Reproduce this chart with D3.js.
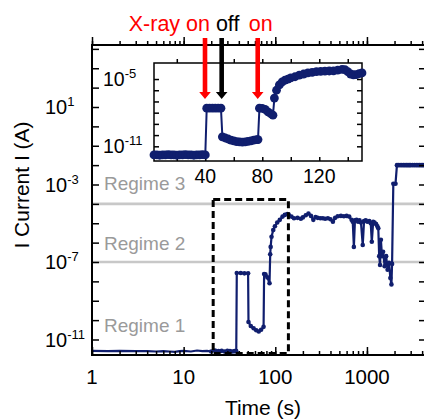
<!DOCTYPE html>
<html>
<head>
<meta charset="utf-8">
<script src="https://cdn.jsdelivr.net/npm/d3@7"></script>
<style>
  body { margin: 0; background: #fff; }
  svg { display: block; }
  text { font-family: Helvetica, "Liberation Sans", Arial, sans-serif; }
</style>
</head>
<body>
<script>
// main trace, log time (s) vs current (A)
var mainTime = [1, 1.5, 2, 3, 4, 5, 6, 7, 8, 9, 10, 12, 14, 16, 18, 20, 22, 24, 26, 28, 30, 32, 34, 36, 37.5,
  38, 42, 46, 50.5, 51, 54, 58, 62, 66, 70, 74.5, 75.5, 78, 82, 86.5, 88, 89, 91, 95, 99, 105, 112, 120, 127, 135, 140,
  150, 160, 175, 190, 200, 215, 230, 245, 260, 275, 290, 310, 330, 350, 375, 400, 425, 450, 480, 520, 560, 600, 640, 680, 700,
  720, 740, 770, 800, 830, 860, 900, 930, 970, 1010, 1060, 1100, 1130, 1170, 1210, 1260, 1300, 1330, 1360, 1390, 1420,
  1460, 1500, 1560, 1620, 1680, 1740, 1800, 1850, 1880, 1940, 2050, 2125, 2200, 2300, 2400, 2500, 2600, 2700, 2800,
  2900, 3000, 3150, 3300, 3450, 3600, 3750, 3900, 4050, 4200, 4300];
var mainCurrent = [2.6e-12, 2.5e-12, 2.6e-12, 2.5e-12, 2.5e-12, 2.4e-12, 2.5e-12, 2.4e-12, 2.3e-12, 2.5e-12, 2.6e-12, 2.4e-12,
  2.7e-12, 2.5e-12, 2.6e-12, 2.4e-12, 2.7e-12, 2.5e-12, 2.6e-12, 2.4e-12, 2.6e-12, 2.5e-12, 2.4e-12, 2.5e-12, 2.5e-12,
  2.7e-8, 2.7e-8, 2.6e-8, 2.6e-8, 8e-11, 5e-11, 3.8e-11, 3e-11, 2.6e-11, 3.2e-11, 4.5e-11, 2.4e-8, 2.3e-8, 1.6e-8, 8e-9,
  2.5e-7, 6e-7, 2e-6, 4.5e-6, 7e-6, 1.1e-5, 1.5e-5, 2.2e-5, 2.7e-5, 3e-5, 2.8e-5,
  2.2e-5, 1.8e-5, 1.9e-5, 1.7e-5, 2e-5, 2.6e-5, 3.2e-5, 2.4e-5, 1.5e-5, 2.1e-5, 1.9e-5, 1.8e-5, 1.8e-5, 1.7e-5, 1.8e-5,
  1.6e-5, 1.2e-5, 1.9e-5, 2.3e-5, 2.4e-5, 2.3e-5, 2.4e-5, 2.2e-5, 1.5e-5, 1.2e-5,
  6e-7, 1.4e-5, 1.5e-5, 1.2e-5, 1.4e-5, 1.1e-5, 7.5e-7, 1.3e-5, 1.4e-5, 1.2e-5, 1.3e-5, 1.0e-5, 1.1e-6, 1.2e-5, 1.1e-5,
  9e-6, 7e-6, 5.5e-6, 2e-7, 7e-8, 1.4e-6, 2e-7, 3.4e-7, 6e-8, 2e-7, 4e-8, 9e-8, 1.5e-8, 7e-9, 8e-8, 1.1e-3, 1.1e-3,
  1e-2, 1e-2, 1e-2, 1e-2, 1e-2, 1e-2, 1e-2, 1e-2, 1e-2, 1e-2, 1e-2, 1e-2, 1e-2, 1e-2, 1e-2, 1e-2, 1e-2, 1e-2, 1e-2];

// inset trace, linear time (s)
var insetTime = [4, 6, 8, 10, 12, 14, 16, 18, 20, 22, 24, 26, 28, 30, 32, 34, 36, 38, 40,
  41, 43, 45, 47, 49, 51,
  52, 54, 56, 58, 60, 62, 64, 66, 68, 70, 72, 74, 76, 77,
  78, 80, 82, 84, 86, 87.5,
  88.5, 90, 92, 94, 96, 98, 100, 103, 106, 109, 112, 115, 118, 121, 124, 127, 130, 133, 136, 138, 140, 142, 144, 146, 148, 150];
var insetCurrent = [1.7e-12, 1.7e-12, 1.6e-12, 1.7e-12, 1.7e-12, 1.8e-12, 1.7e-12, 1.7e-12, 1.6e-12, 1.7e-12, 1.7e-12,
  1.8e-12, 1.7e-12, 1.7e-12, 1.6e-12, 1.7e-12, 1.7e-12, 1.8e-12, 1.7e-12,
  2.5e-8, 2.5e-8, 2.5e-8, 2.5e-8, 2.5e-8, 2.5e-8,
  7e-11, 5.5e-11, 4.5e-11, 3.5e-11, 3e-11, 2.6e-11, 2.5e-11, 2.4e-11, 2.5e-11, 2.7e-11, 3e-11, 3.5e-11, 4e-11, 4e-11,
  2.5e-8, 2.4e-8, 2e-8, 1.2e-8, 8e-9, 6e-9,
  2e-7, 1e-6, 3e-6, 5.6e-6, 8e-6, 1e-5, 1.26e-5, 1.6e-5, 2.2e-5, 2.8e-5, 3.5e-5, 4e-5, 4.5e-5, 4.8e-5, 5e-5, 5.2e-5,
  5.4e-5, 6.3e-5, 7.4e-5, 7e-5, 4.5e-5, 2.8e-5, 2.4e-5, 2.5e-5, 3e-5, 3.5e-5];

var xTickLabels = [1, 10, 100, 1000];
var yTickExps = [1, -3, -7, -11];
var insetXTicks = [40, 80, 120];
var insetYTickExps = [-5, -11];
var regimeNames = ['Regime 3', 'Regime 2', 'Regime 1'];
var regimeBounds = [1e-4, 1e-7];
var xrayTimes = [39.8, 51.5, 76.8];
var xrayStates = ['on', 'off', 'on'];
var xrayLabels = ['X-ray on', 'off', 'on'];
var boxTime = [21, 139];
var boxCurrent = [1.9e-12, 1.7e-4];

var W = 424, H = 420
  , plot = { left: 92, right: 425, top: 45, bottom: 355 }
  , ins = { left: 154, right: 362, top: 63, bottom: 161 }
  , navy = '#101e6e'
  , gray = '#c8c8c8';

var svg = d3.select('body').append('svg')
    .attr('width', W)
    .attr('height', H);

var x = d3.scaleLog().domain([1, 4300]).range([plot.left, plot.right]);
var y = d3.scaleLog().domain([Math.pow(10, -11.8), Math.pow(10, 4.2)]).range([plot.bottom, plot.top]);
var xi = d3.scaleLinear().domain([4, 150]).range([ins.left, ins.right]);
var yi = d3.scaleLog().domain([Math.pow(10, -12.31), Math.pow(10, -3.57)]).range([ins.bottom, ins.top]);

function pow10(g, px, py, e, size) {
  var t = g.append('text')
      .attr('x', px)
      .attr('y', py)
      .style('font-size', size + 'px');
  t.append('tspan').text('10');
  t.append('tspan')
      .attr('dy', -size * 0.38)
      .style('font-size', Math.round(size * 0.66) + 'px')
      .text(e);
}

function ticks(g, axis, tr, vals, len) {
  g.append('g')
      .attr('transform', tr)
      .call(axis.tickValues(vals).tickSize(-len).tickFormat(''))
      .call(a => a.select('.domain').remove())
      .selectAll('line').attr('stroke-width', 1.5);
}

// regime boundaries
svg.append('g').selectAll('line')
    .data(regimeBounds)
  .enter().append('line')
    .attr('x1', plot.left).attr('x2', plot.right)
    .attr('y1', d => y(d)).attr('y2', d => y(d))
    .attr('stroke', gray)
    .attr('stroke-width', 2.6);

var regimeY = [190, 250, 332];
svg.append('g').selectAll('text')
    .data(regimeNames)
  .enter().append('text')
    .attr('x', 104)
    .attr('y', (d, i) => regimeY[i])
    .style('font-size', '19px')
    .attr('fill', '#9a9a9a')
    .text(d => d);

// main trace
var mainData = mainTime.map((t, i) => ({ t: t, v: mainCurrent[i] }));

svg.append('path')
    .datum(mainData)
    .attr('fill', 'none')
    .attr('stroke', navy)
    .attr('stroke-width', 2.2)
    .attr('d', d3.line().x(d => x(d.t)).y(d => y(d.v)));

svg.append('g').selectAll('circle')
    .data(mainData.filter(d => d.t >= 20))
  .enter().append('circle')
    .attr('cx', d => x(d.t))
    .attr('cy', d => y(d.v))
    .attr('r', 2.3)
    .attr('fill', navy);

// zoom box
svg.append('rect')
    .attr('x', x(boxTime[0]))
    .attr('y', y(boxCurrent[1]))
    .attr('width', x(boxTime[1]) - x(boxTime[0]))
    .attr('height', y(boxCurrent[0]) - y(boxCurrent[1]))
    .attr('fill', 'none')
    .attr('stroke', '#000')
    .attr('stroke-width', 3)
    .attr('stroke-dasharray', '7,4');

// main frame and ticks
var xAll = x.ticks();
var yDec = d3.range(-11, 5).map(e => Math.pow(10, e));

ticks(svg, d3.axisBottom(x), 'translate(0,' + plot.bottom + ')', xAll, 4);
ticks(svg, d3.axisBottom(x), 'translate(0,' + plot.bottom + ')', xTickLabels, 8);
ticks(svg, d3.axisTop(x), 'translate(0,' + plot.top + ')', xAll, -4);
ticks(svg, d3.axisTop(x), 'translate(0,' + plot.top + ')', xTickLabels, -8);
ticks(svg, d3.axisLeft(y), 'translate(' + plot.left + ',0)', yDec, 7);
ticks(svg, d3.axisRight(y), 'translate(' + plot.right + ',0)', yDec, 6);

svg.append('rect')
    .attr('x', plot.left).attr('y', plot.top)
    .attr('width', plot.right - plot.left)
    .attr('height', plot.bottom - plot.top)
    .attr('fill', 'none')
    .attr('stroke', '#000')
    .attr('stroke-width', 2);

svg.append('g').selectAll('text')
    .data(xTickLabels)
  .enter().append('text')
    .attr('x', d => x(d))
    .attr('y', 384)
    .attr('text-anchor', 'middle')
    .style('font-size', '20.5px')
    .text(d => d);

yTickExps.forEach(e => pow10(svg, 45, y(Math.pow(10, e)) + 7, e, 20));

svg.append('text')
    .attr('x', 263)
    .attr('y', 415)
    .attr('text-anchor', 'middle')
    .style('font-size', '21px')
    .text('Time (s)');

svg.append('text')
    .attr('transform', 'translate(29,185) rotate(-90)')
    .attr('text-anchor', 'middle')
    .style('font-size', '21px')
    .text('I Current I (A)');

// inset
var inset = svg.append('g');

inset.append('rect')
    .attr('x', ins.left).attr('y', ins.top)
    .attr('width', ins.right - ins.left)
    .attr('height', ins.bottom - ins.top)
    .attr('fill', '#fff');

var insYDec = d3.range(-11, -4).map(e => Math.pow(10, e));
var insXAll = [20, 40, 60, 80, 100, 120, 140];
ticks(inset, d3.axisBottom(xi), 'translate(0,' + ins.bottom + ')', insXAll, 4);
ticks(inset, d3.axisTop(xi), 'translate(0,' + ins.top + ')', insXAll, -4);
ticks(inset, d3.axisLeft(yi), 'translate(' + ins.left + ',0)', insYDec, 5);
ticks(inset, d3.axisRight(yi), 'translate(' + ins.right + ',0)', insYDec, 5);

inset.append('rect')
    .attr('x', ins.left).attr('y', ins.top)
    .attr('width', ins.right - ins.left)
    .attr('height', ins.bottom - ins.top)
    .attr('fill', 'none')
    .attr('stroke', '#000')
    .attr('stroke-width', 1.5);

var insetData = insetTime.map((t, i) => ({ t: t, v: insetCurrent[i] }));

inset.append('path')
    .datum(insetData)
    .attr('fill', 'none')
    .attr('stroke', navy)
    .attr('stroke-width', 2)
    .attr('d', d3.line().x(d => xi(d.t)).y(d => yi(d.v)));

inset.append('g').selectAll('circle')
    .data(insetData)
  .enter().append('circle')
    .attr('cx', d => xi(d.t))
    .attr('cy', d => yi(d.v))
    .attr('r', 4.4)
    .attr('fill', navy);

inset.append('g').selectAll('text')
    .data(insetXTicks)
  .enter().append('text')
    .attr('x', d => xi(d))
    .attr('y', 183)
    .attr('text-anchor', 'middle')
    .style('font-size', '19.5px')
    .text(d => d);

insetYTickExps.forEach(e => pow10(inset, 103, yi(Math.pow(10, e)) + 6.5, e, 19.5));

// x-ray arrows
var arrowColor = s => s === 'on' ? '#ff0000' : '#000';

svg.append('g').selectAll('path')
    .data(xrayTimes)
  .enter().append('path')
    .attr('fill', (d, i) => arrowColor(xrayStates[i]))
    .attr('d', d => {
      var cx = xi(d);
      return 'M' + (cx - 2.3) + ',38 L' + (cx + 2.3) + ',38 L' + (cx + 2.3) + ',92 L' + (cx + 5.8) + ',92 L' + cx + ',99 L'
        + (cx - 5.8) + ',92 L' + (cx - 2.3) + ',92 Z';
    });

var labelAnchor = ['end', 'middle', 'middle'];
var labelShift = [5, 6, 3];
svg.append('g').selectAll('text')
    .data(xrayLabels)
  .enter().append('text')
    .attr('x', (d, i) => xi(xrayTimes[i]) + labelShift[i])
    .attr('y', 31)
    .attr('text-anchor', (d, i) => labelAnchor[i])
    .attr('fill', (d, i) => arrowColor(xrayStates[i]))
    .style('font-size', '21.5px')
    .text(d => d);
</script>
</body>
</html>
